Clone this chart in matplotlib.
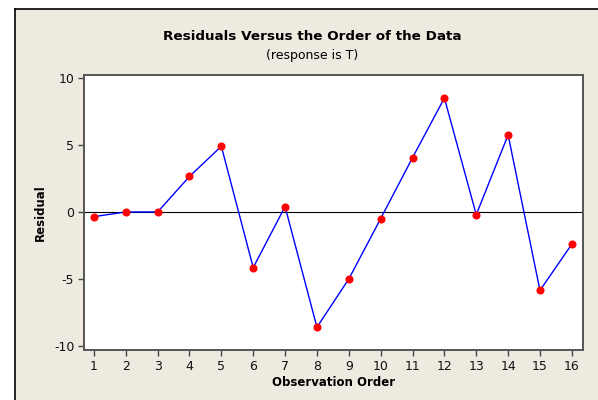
#!/usr/bin/env python3
"""Residuals versus observation order (Minitab-style residual plot)."""

import matplotlib

matplotlib.use("Agg")
import matplotlib.pyplot as plt
from matplotlib.patches import Rectangle
from matplotlib.lines import Line2D

plt.rcParams["axes.unicode_minus"] = False

order = list(range(1, 17))
residuals = [-0.35, 0.0, 0.0, 2.65, 4.9, -4.15, 0.4, -8.6,
             -5.0, -0.5, 4.05, 8.5, -0.2, 5.75, -5.85, -2.4]
y_ticks = [-10, -5, 0, 5, 10]

BEIGE = "#eeeae0"

fig = plt.figure(figsize=(5.98, 4.0), dpi=100)
fig.patch.set_facecolor("white")

# beige panel with black left/top edge (drawn beneath the axes)
fig.patches.append(Rectangle((15 / 598, 0), 1 - 15 / 598, 391 / 400,
                             transform=fig.transFigure, facecolor=BEIGE,
                             edgecolor="none", zorder=-2))
fig.lines.append(Line2D([14.5 / 598, 14.5 / 598], [0, 391.5 / 400],
                        transform=fig.transFigure, color="black", lw=1.2,
                        zorder=-1))
fig.lines.append(Line2D([14.5 / 598, 1], [391.5 / 400, 391.5 / 400],
                        transform=fig.transFigure, color="black", lw=1.2,
                        zorder=-1))

ax = fig.add_axes([84 / 598, 50 / 400, 499 / 598, 275 / 400])
ax.set_facecolor("white")

ax.axhline(0, color="black", lw=0.8, zorder=1)
ax.plot(order, residuals, color="#0000ff", lw=1.0, zorder=2)
ax.plot(order, residuals, "o", color="#ff0000", ms=4.8, mec="#ff0000", zorder=3)

ax.set_xlim(0.69, 16.35)
ax.set_ylim(-10.3, 10.22)
ax.set_xticks(order)
ax.set_yticks(y_ticks)
ax.tick_params(direction="out", length=4, width=1.0, labelsize=9,
               color="#444444", labelcolor="#111111", pad=3)
for side in ("top", "right", "bottom", "left"):
    ax.spines[side].set_color("#555555")
    ax.spines[side].set_linewidth(1.4)

ax.set_xlabel("Observation Order", fontsize=8.5, fontweight="bold", labelpad=2)
ax.set_ylabel("Residual", fontsize=8.5, fontweight="bold", labelpad=5)

fig.text(312 / 598, 1 - 37 / 400, "Residuals Versus the Order of the Data",
         ha="center", va="center", fontsize=9.7, fontweight="bold")
fig.text(312 / 598, 1 - 55 / 400, "(response is T)",
         ha="center", va="center", fontsize=9)

fig.savefig("out.png", dpi=100)
